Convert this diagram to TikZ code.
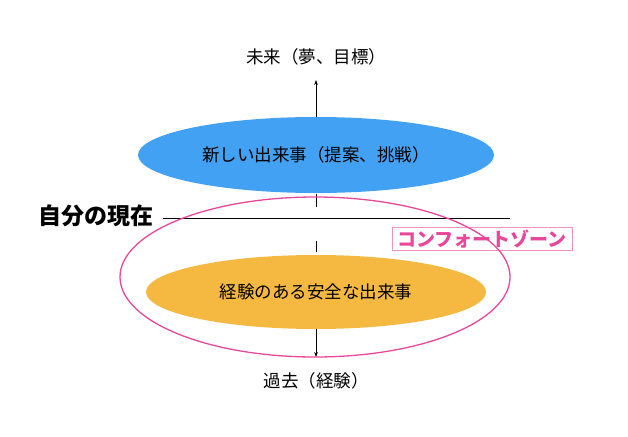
\documentclass[tikz,border=0pt]{standalone}
\usepackage{fontspec}
\setmainfont{Noto Sans CJK JP}
\usetikzlibrary{arrows.meta}
\definecolor{blu}{HTML}{42A1F2}
\definecolor{org}{HTML}{F5B942}
\definecolor{pnk}{HTML}{E8479A}
\tikzset{lbl/.style={font=\fontsize{17.5}{20}\selectfont},axis/.style={line width=0.9pt}}
\begin{document}
\begin{tikzpicture}[x=1pt,y=-1pt]
\useasboundingbox (0,0) rectangle (628,436);
\fill[blu] (316,155) ellipse [x radius=178,y radius=38];
\node[lbl] (blue) at (316,155) {新しい出来事（提案、挑戦）};
\fill[org] (316,292) ellipse [x radius=170,y radius=37];
\node[lbl] (orange) at (316,292) {経験のある安全な出来事};
\node[lbl] (fut) at (316,57) {未来（夢、目標）};
\node[lbl] (past) at (316,381) {過去（経験）};
\node[font=\fontsize{23}{26}\selectfont\bfseries,anchor=east] (now) at (157,216) {自分の現在};
\coordinate (lineR) at (510,218);
\draw[line width=0.8pt] (163,218) -- (lineR);
\coordinate (a1) at (316,117); \coordinate (a0) at (316,80);
\draw[axis,-{Stealth[length=5pt]}] (a1) -- (a0);
\draw[axis] (316,194) -- (316,207);
\draw[axis] (316,241) -- (316,252);
\coordinate (b1) at (316,329); \coordinate (b0) at (316,357);
\draw[axis,-{Stealth[length=5pt]}] (b1) -- (b0);
\node[draw=pnk!60,line width=0.8pt,text=pnk,font=\fontsize{19}{21}\selectfont\bfseries,inner sep=1pt,minimum width=180pt,minimum height=23pt] (cz) at (482,239) {コンフォートゾーン};
\draw[pnk,line width=1.3pt] (315,277) ellipse [x radius=195,y radius=80];
\end{tikzpicture}
\end{document}
